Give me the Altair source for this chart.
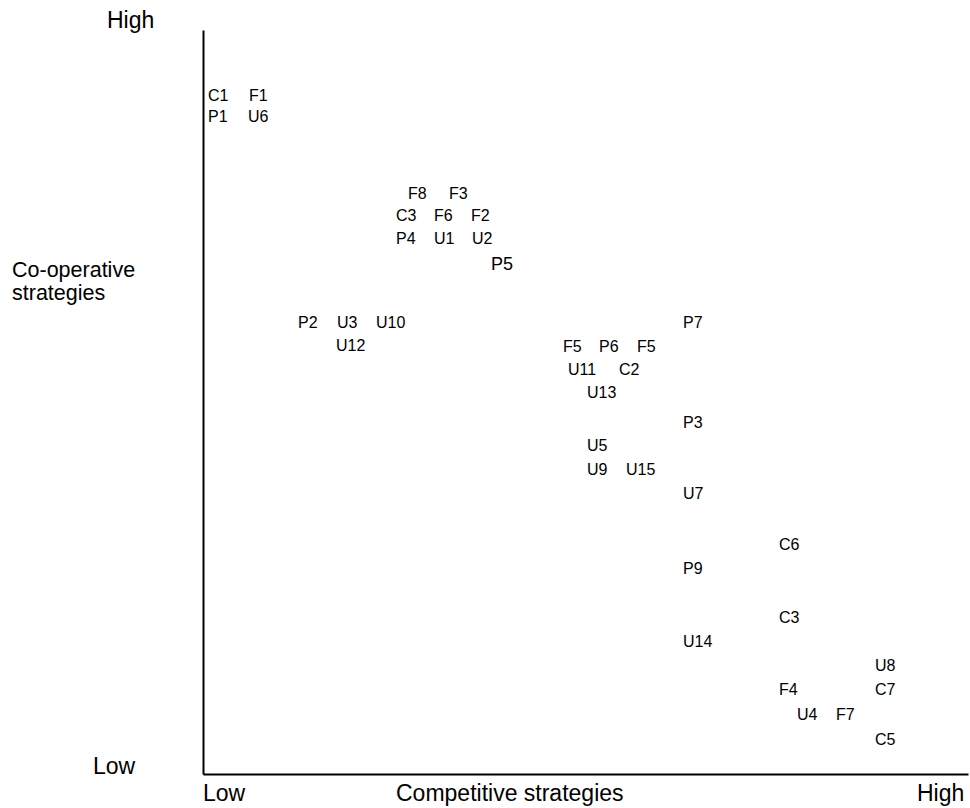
import altair as alt
import pandas as pd

# Strategy labels: position along competitive (x) and co-operative (y) dimensions
labels = ["C1", "F1", "P1", "U6",
          "F8", "F3", "C3", "F6", "F2", "P4", "U1", "U2",
          "P2", "U3", "U10", "U12",
          "P7", "F5", "P6", "F5", "U11", "C2", "U13",
          "P3", "U5", "U9", "U15", "U7",
          "C6", "P9", "C3", "U14",
          "U8", "F4", "C7", "U4", "F7", "C5"]
competitive = [5, 46, 5, 45,
               205, 246, 193, 231, 268, 193, 231, 269,
               95, 134, 173, 133,
               480, 360, 396, 434, 365, 416, 384,
               480, 384, 384, 423, 480,
               576, 480, 576, 480,
               672, 576, 672, 594, 633, 672]
cooperative = [678, 678, 657, 657,
               580, 580, 558, 558, 558, 535, 535, 535,
               451, 451, 451, 428,
               451, 427, 427, 427, 404, 404, 381,
               351, 328, 304, 304, 280,
               229, 205, 156, 132,
               108, 84, 84, 59, 59, 34]

# Highlighted label (drawn slightly larger)
big_label = ["P5"]
big_comp = [288]
big_coop = [509]

# Axis end annotations
ann_text = ["High", "Low", "Low", "Competitive strategies", "High"]
ann_x = [-96, -110, 0, 193, 714]
ann_y = [753, 7, -20, -20, -20]

# Vertical-dimension title (two lines)
ytitle_text = ["Co-operative", "strategies"]
ytitle_x = [-191, -191]
ytitle_y = [503.5, 480.5]

df = pd.DataFrame({"label": labels, "comp": competitive, "coop": cooperative})
df_big = pd.DataFrame({"label": big_label, "comp": big_comp, "coop": big_coop})
df_ann = pd.DataFrame({"text": ann_text, "x": ann_x, "y": ann_y})
df_yt = pd.DataFrame({"text": ytitle_text, "x": ytitle_x, "y": ytitle_y})

FONT = "Liberation Sans"

xscale = alt.Scale(domain=[0, 765], nice=False, zero=False)
yscale = alt.Scale(domain=[0, 744], nice=False, zero=False)
xaxis = alt.Axis(title=None, labels=False, ticks=False, grid=False,
                 domain=True, domainColor="black", domainWidth=2)
yaxis = alt.Axis(title=None, labels=False, ticks=False, grid=False,
                 domain=True, domainColor="black", domainWidth=2)

base_text = alt.Chart(df).mark_text(
    align="left", baseline="middle", font=FONT, fontSize=16, color="black"
).encode(
    x=alt.X("comp:Q", scale=xscale, axis=xaxis),
    y=alt.Y("coop:Q", scale=yscale, axis=yaxis),
    text="label:N",
)

big_text = alt.Chart(df_big).mark_text(
    align="left", baseline="middle", font=FONT, fontSize=18, color="black"
).encode(
    x=alt.X("comp:Q", scale=xscale),
    y=alt.Y("coop:Q", scale=yscale),
    text="label:N",
)

ann = alt.Chart(df_ann).mark_text(
    align="left", baseline="middle", font=FONT, fontSize=23, color="black"
).encode(
    x=alt.X("x:Q", scale=xscale),
    y=alt.Y("y:Q", scale=yscale),
    text="text:N",
)

ytitle = alt.Chart(df_yt).mark_text(
    align="left", baseline="middle", font=FONT, fontSize=21.5, color="black"
).encode(
    x=alt.X("x:Q", scale=xscale),
    y=alt.Y("y:Q", scale=yscale),
    text="text:N",
)

chart = alt.layer(base_text, big_text, ann, ytitle).properties(
    width=765, height=744,
    padding={"left": 203, "top": 30, "right": 2, "bottom": 34},
    autosize=alt.AutoSizeParams(type="none"),
    background="white",
).configure_view(stroke=None)

chart.save("out.html", embed_options={"renderer": "svg", "actions": False})
